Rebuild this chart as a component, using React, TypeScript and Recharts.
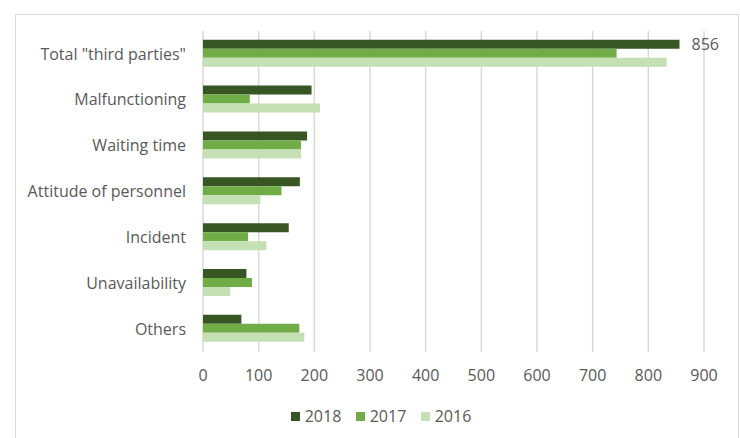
import React from "react";
import { BarChart, Bar, XAxis, YAxis, CartesianGrid, Legend, LabelList } from "recharts";

const categories = [
  'Total "third parties"',
  "Malfunctioning",
  "Waiting time",
  "Attitude of personnel",
  "Incident",
  "Unavailability",
  "Others",
];
const v2018 = [856, 195, 187, 174, 154, 78, 69];
const v2017 = [743, 84, 176, 141, 81, 88, 173];
const v2016 = [833, 210, 176, 103, 114, 49, 182];
const labels2018 = ["856", "", "", "", "", "", ""];
const xTicks = [0, 100, 200, 300, 400, 500, 600, 700, 800, 900];
const seriesNames = ["2018", "2017", "2016"];
const colors = ["#375623", "#70ad47", "#c5e0b4"];

const data = categories.map((name, i) => ({
  name,
  y2018: v2018[i],
  y2017: v2017[i],
  y2016: v2016[i],
  lbl: labels2018[i],
}));

const TEXT = "#595959";

const renderLegend = (props: any) => {
  const payload = props.payload || [];
  const byName: Record<string, string> = {};
  payload.forEach((p: any) => {
    byName[p.value] = p.color;
  });
  return (
    <div style={{ display: "flex", justifyContent: "center", alignItems: "center", height: 20 }}>
      {seriesNames.map((n, i) => (
        <div
          key={n}
          style={{
            display: "flex",
            alignItems: "center",
            width: i < seriesNames.length - 1 ? 65 : "auto",
          }}
        >
          <span
            style={{
              display: "inline-block",
              width: 9,
              height: 9,
              background: byName[n] || colors[i],
              marginRight: 5,
            }}
          />
          <span style={{ color: TEXT, fontSize: 16, lineHeight: "20px" }}>{n}</span>
        </div>
      ))}
    </div>
  );
};

export default function App() {
  return (
    <div
      style={{
        position: "absolute",
        left: 0,
        top: 0,
        width: 740,
        height: 438,
        overflow: "hidden",
        background: "#fff",
        fontFamily: "'Open Sans', sans-serif",
      }}
    >
      <div
        style={{
          position: "absolute",
          left: 15,
          top: 14,
          width: 724,
          height: 440,
          boxSizing: "border-box",
          border: "1px solid #d9d9d9",
        }}
      />
      <BarChart
        width={740}
        height={438}
        data={data}
        layout="vertical"
        margin={{ top: 31, right: 36, left: 15, bottom: 56 }}
        barCategoryGap="19%"
        barGap={0}
      >
        <CartesianGrid horizontal={false} stroke="#d9d9d9" strokeWidth={1.5} />
        <XAxis
          type="number"
          domain={[0, 900]}
          ticks={xTicks}
          axisLine={false}
          tickLine={false}
          tickSize={6}
          tickMargin={12}
          height={30}
          tick={{ fill: TEXT, fontSize: 16 }}
          interval={0}
        />
        <YAxis
          type="category"
          dataKey="name"
          axisLine={false}
          tickLine={false}
          tickSize={6}
          tickMargin={11}
          width={188}
          tick={{ fill: TEXT, fontSize: 16 }}
          interval={0}
        />
        <Legend
          verticalAlign="middle"
          align="center"
          layout="horizontal"
          content={renderLegend}
          wrapperStyle={{ top: 406, left: 11, width: 740, height: 20 }}
        />
        <Bar dataKey="y2018" name={seriesNames[0]} fill={colors[0]} isAnimationActive={false}>
          <LabelList dataKey="lbl" position="right" offset={12} fill={TEXT} fontSize={16} />
        </Bar>
        <Bar dataKey="y2017" name={seriesNames[1]} fill={colors[1]} isAnimationActive={false} />
        <Bar dataKey="y2016" name={seriesNames[2]} fill={colors[2]} isAnimationActive={false} />
      </BarChart>
    </div>
  );
}
